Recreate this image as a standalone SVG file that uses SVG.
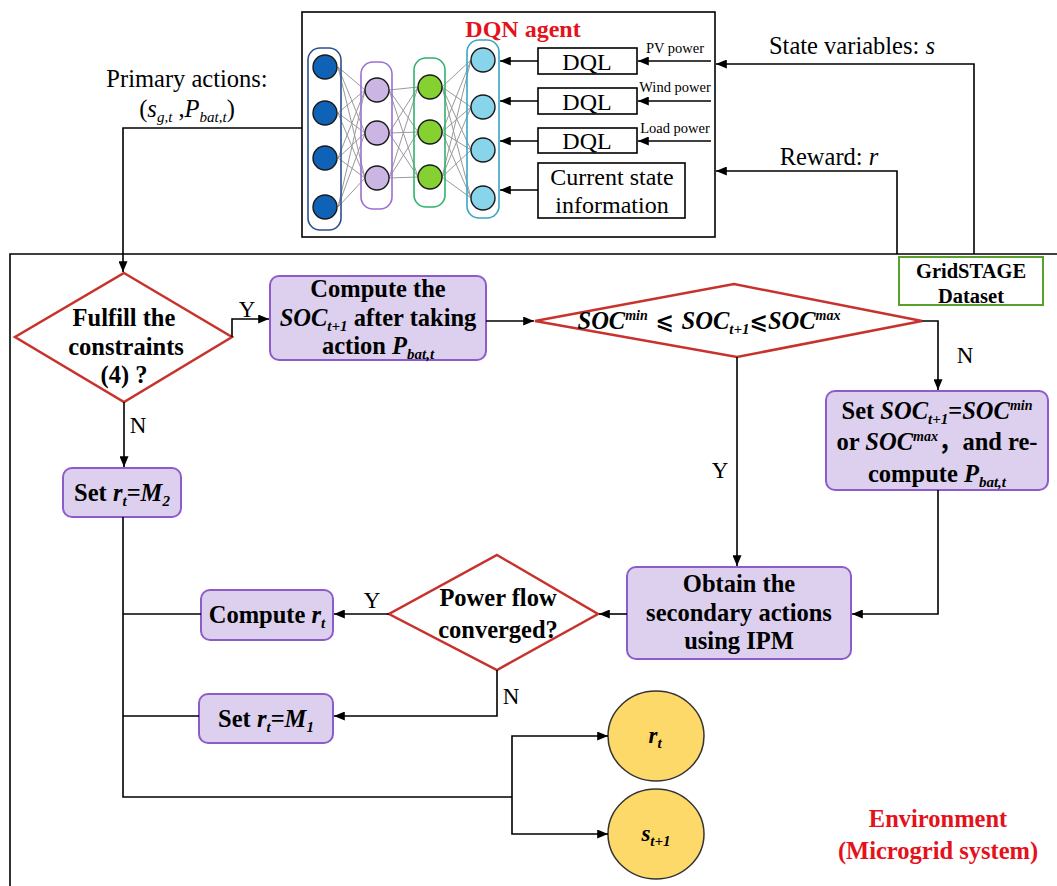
<svg xmlns="http://www.w3.org/2000/svg" width="1057" height="886" viewBox="0 0 1057 886">
  <style>
    .t { font-family: 'Liberation Serif', 'DejaVu Serif', 'Noto Sans CJK SC', serif; fill: #000; }
    .b { font-weight: bold; }
    .i { font-style: italic; }
    .red { fill: #e3121b; }
    .proc { fill: #dcd0ee; stroke: #8e5cc9; stroke-width: 2; }
    .dec { fill: #fff; stroke: #c8322c; stroke-width: 2.5; }
    .box { fill: #fff; stroke: #000; stroke-width: 1.6; }
    .wire { fill: none; stroke: #000; stroke-width: 1.6; }
    .arr { marker-end: url(#ah); }
    .net { fill: none; stroke: #9a9a9a; stroke-width: 1; }
    .node { stroke: #1a1a1a; stroke-width: 1.4; }
    .goal { fill: #fdd96a; stroke: #333; stroke-width: 1.5; }
    .sym { font-style: normal; font-family: 'DejaVu Serif', 'DejaVu Sans', serif; }
  </style>
  <defs>
    <marker id="ah" viewBox="0 0 12 10" refX="12" refY="5" markerWidth="12" markerHeight="9" markerUnits="userSpaceOnUse" orient="auto">
      <path d="M0,0 L12,5 L0,10 z" fill="#000"/>
    </marker>
  </defs>

  <rect width="1057" height="886" fill="#fff"/>

  <!-- environment boundary -->
  <path class="wire" d="M10 886 V254 H1057"/>

  <!-- DQN agent -->
  <g id="dqn-agent">
    <rect x="302" y="12" width="413" height="225" class="box"/>
    <text x="523" y="37" class="t b red" font-size="24" text-anchor="middle">DQN agent</text>
    <!-- inter-layer weights -->
    <path class="net" d="M338 67L365 90M338 67L365 133M338 67L365 178M338 113L365 90M338 113L365 133M338 113L365 178M338 158L365 90M338 158L365 133M338 158L365 178M338 207L365 90M338 207L365 133M338 207L365 178
      M389 90L418 87M389 90L418 132M389 90L418 177M389 133L418 87M389 133L418 132M389 133L418 177M389 178L418 87M389 178L418 132M389 178L418 177
      M442 87L471 60M442 87L471 107M442 87L471 150M442 87L471 198M442 132L471 60M442 132L471 107M442 132L471 150M442 132L471 198M442 177L471 60M442 177L471 107M442 177L471 150M442 177L471 198"/>
    <rect x="308" y="48" width="33" height="182" rx="12" fill="none" stroke="#2d4f8e" stroke-width="1.6"/>
    <rect x="361" y="62" width="31" height="147" rx="12" fill="none" stroke="#9b6fd2" stroke-width="1.6"/>
    <rect x="414" y="58" width="31" height="149" rx="12" fill="none" stroke="#2fb36b" stroke-width="1.6"/>
    <rect x="467" y="40" width="32" height="178" rx="12" fill="none" stroke="#3aa5c0" stroke-width="1.6"/>
    <g class="node" fill="#0f62b5">
      <circle cx="325" cy="67" r="12"/><circle cx="325" cy="113" r="12"/><circle cx="325" cy="158" r="12"/><circle cx="325" cy="207" r="12"/>
    </g>
    <g class="node" fill="#cbb6e3">
      <circle cx="377" cy="90" r="12"/><circle cx="377" cy="133" r="12"/><circle cx="377" cy="178" r="12"/>
    </g>
    <g class="node" fill="#86d132">
      <circle cx="430" cy="87" r="12"/><circle cx="430" cy="132" r="12"/><circle cx="430" cy="177" r="12"/>
    </g>
    <g class="node" fill="#88d4ea">
      <circle cx="483" cy="60" r="12"/><circle cx="483" cy="107" r="12"/><circle cx="483" cy="150" r="12"/><circle cx="483" cy="198" r="12"/>
    </g>
  </g>

  <g id="dql-pv">
    <rect x="538" y="48" width="99" height="26" class="box"/>
    <text x="587" y="70" class="t" font-size="24" text-anchor="middle">DQL</text>
  </g>
  <g id="dql-wind">
    <rect x="538" y="88" width="99" height="26" class="box"/>
    <text x="587" y="110" class="t" font-size="24" text-anchor="middle">DQL</text>
  </g>
  <g id="dql-load">
    <rect x="538" y="128" width="99" height="25" class="box"/>
    <text x="587" y="149" class="t" font-size="24" text-anchor="middle">DQL</text>
  </g>
  <g id="current-state">
    <rect x="538" y="163" width="147" height="55" class="box"/>
    <text x="612" y="185" class="t" font-size="24" text-anchor="middle">Current state</text>
    <text x="612" y="213" class="t" font-size="24" text-anchor="middle">information</text>
  </g>

  <!-- labels outside the flow -->
  <g id="labels">
    <text x="675" y="53" class="t" font-size="14.5" text-anchor="middle">PV power</text>
    <text x="675" y="92" class="t" font-size="14.5" text-anchor="middle">Wind power</text>
    <text x="675" y="133" class="t" font-size="14.5" text-anchor="middle">Load power</text>
    <text x="852" y="54" class="t" font-size="24.5" text-anchor="middle">State variables: <tspan class="i">s</tspan></text>
    <text x="829" y="165" class="t" font-size="24.5" text-anchor="middle">Reward: <tspan class="i">r</tspan></text>
    <text x="187" y="87" class="t" font-size="24.5" text-anchor="middle">Primary actions:</text>
    <text x="187" y="117" class="t" font-size="24.5" text-anchor="middle">(<tspan class="i">s</tspan><tspan class="i" font-size="15" dy="5">g,t</tspan><tspan dy="-5"> ,</tspan><tspan class="i">P</tspan><tspan class="i" font-size="15" dy="5">bat,t</tspan><tspan dy="-5">)</tspan></text>
    <text x="247" y="317" class="t" font-size="23" text-anchor="middle">Y</text>
    <text x="138" y="433" class="t" font-size="23" text-anchor="middle">N</text>
    <text x="965" y="363" class="t" font-size="23" text-anchor="middle">N</text>
    <text x="720" y="478" class="t" font-size="23" text-anchor="middle">Y</text>
    <text x="372" y="608" class="t" font-size="23" text-anchor="middle">Y</text>
    <text x="511" y="704" class="t" font-size="23" text-anchor="middle">N</text>
    <text x="938" y="827" class="t b red" font-size="24.5" text-anchor="middle">Environment</text>
    <text x="938" y="859" class="t b red" font-size="24.5" text-anchor="middle">(Microgrid system)</text>
  </g>

  <g id="gridstage">
    <rect x="899" y="257" width="144" height="48" fill="#fff" stroke="#5aa02c" stroke-width="2"/>
    <text x="971" y="278" class="t b" font-size="20.5" text-anchor="middle">GridSTAGE</text>
    <text x="971" y="303" class="t b" font-size="20.5" text-anchor="middle">Dataset</text>
  </g>

  <g id="check-constraints">
    <polygon points="124,273 232,337 124,402 15,337" class="dec"/>
    <text x="124" y="326" class="t b" font-size="24.5" text-anchor="middle">Fulfill the</text>
    <text x="126" y="355" class="t b" font-size="24.5" text-anchor="middle">constraints</text>
    <text x="124" y="383" class="t b" font-size="24.5" text-anchor="middle">(4) ?</text>
  </g>

  <g id="compute-soc">
    <rect x="270" y="276" width="216" height="84" rx="9" class="proc"/>
    <text x="378" y="297" class="t b" font-size="24.5" text-anchor="middle">Compute the</text>
    <text x="378" y="326" class="t b" font-size="24.5" text-anchor="middle"><tspan class="i">SOC</tspan><tspan class="i" font-size="15" dy="5">t+1</tspan><tspan dy="-5"> after taking</tspan></text>
    <text x="378" y="354" class="t b" font-size="24.5" text-anchor="middle">action <tspan class="i">P</tspan><tspan class="i" font-size="15" dy="5">bat,t</tspan></text>
  </g>

  <g id="check-soc">
    <polygon points="535,321 734,284 922,321 737,357" class="dec"/>
    <text x="709" y="329" class="t b i" font-size="24.5" text-anchor="middle">SOC<tspan font-size="14" dy="-9">min</tspan><tspan dy="9" class="sym" font-size="22"> ⩽ </tspan><tspan>SOC</tspan><tspan font-size="15" dy="5">t+1</tspan><tspan dy="-5" class="sym" font-size="22">⩽</tspan><tspan>SOC</tspan><tspan font-size="14" dy="-9">max</tspan></text>
  </g>

  <g id="reset-soc">
    <rect x="826" y="391" width="222" height="99" rx="9" class="proc"/>
    <text x="937" y="419" class="t b" font-size="24.5" text-anchor="middle">Set <tspan class="i">SOC</tspan><tspan class="i" font-size="15" dy="5">t+1</tspan><tspan dy="-5">=</tspan><tspan class="i">SOC</tspan><tspan class="i" font-size="14" dy="-9">min</tspan></text>
    <text x="937" y="450" class="t b" font-size="24.5" text-anchor="middle">or <tspan class="i">SOC</tspan><tspan class="i" font-size="14" dy="-9">max</tspan><tspan dy="9">，and re-</tspan></text>
    <text x="937" y="482" class="t b" font-size="24.5" text-anchor="middle">compute <tspan class="i">P</tspan><tspan class="i" font-size="15" dy="5">bat,t</tspan></text>
  </g>

  <g id="set-m2">
    <rect x="63" y="468" width="118" height="49" rx="9" class="proc"/>
    <text x="122" y="501" class="t b" font-size="24.5" text-anchor="middle">Set <tspan class="i">r</tspan><tspan class="i" font-size="15" dy="5">t</tspan><tspan dy="-5">=</tspan><tspan class="i">M</tspan><tspan class="i" font-size="15" dy="5">2</tspan></text>
  </g>

  <g id="obtain-secondary">
    <rect x="627" y="567" width="224" height="92" rx="9" class="proc"/>
    <text x="739" y="592" class="t b" font-size="24.5" text-anchor="middle">Obtain the</text>
    <text x="739" y="621" class="t b" font-size="24.5" text-anchor="middle">secondary actions</text>
    <text x="739" y="649" class="t b" font-size="24.5" text-anchor="middle">using IPM</text>
  </g>

  <g id="power-flow">
    <polygon points="497,555 598,614 497,670 389,614" class="dec"/>
    <text x="498" y="606" class="t b" font-size="24.5" text-anchor="middle">Power flow</text>
    <text x="498" y="638" class="t b" font-size="24.5" text-anchor="middle">converged?</text>
  </g>

  <g id="compute-reward">
    <rect x="201" y="590" width="132" height="50" rx="9" class="proc"/>
    <text x="267" y="623" class="t b" font-size="24.5" text-anchor="middle">Compute <tspan class="i">r</tspan><tspan class="i" font-size="15" dy="5">t</tspan></text>
  </g>

  <g id="set-m1">
    <rect x="199" y="694" width="134" height="49" rx="9" class="proc"/>
    <text x="266" y="727" class="t b" font-size="24.5" text-anchor="middle">Set <tspan class="i">r</tspan><tspan class="i" font-size="15" dy="5">t</tspan><tspan dy="-5">=</tspan><tspan class="i">M</tspan><tspan class="i" font-size="15" dy="5">1</tspan></text>
  </g>

  <g id="reward-out">
    <ellipse cx="656" cy="736" rx="48" ry="45" class="goal"/>
    <text x="655" y="743" class="t b i" font-size="23" text-anchor="middle">r<tspan font-size="15" dy="5">t</tspan></text>
  </g>
  <g id="state-out">
    <ellipse cx="656" cy="834" rx="48" ry="45" class="goal"/>
    <text x="656" y="841" class="t b i" font-size="23" text-anchor="middle">s<tspan font-size="15" dy="5">t+1</tspan></text>
  </g>

  <!-- connectors -->
  <g id="connectors" class="wire">
    <path class="arr" d="M302 128 H123 V272"/>
    <path class="arr" d="M974 254 V64 H716"/>
    <path class="arr" d="M897 254 V171 H716"/>
    <path class="arr" d="M711 61 H638"/>
    <path class="arr" d="M711 101 H638"/>
    <path class="arr" d="M711 141 H638"/>
    <path class="arr" d="M538 61 H500"/>
    <path class="arr" d="M538 101 H500"/>
    <path class="arr" d="M538 141 H500"/>
    <path class="arr" d="M538 190 H500"/>
    <path class="arr" d="M232 337 V319 H269"/>
    <path class="arr" d="M486 321 H534"/>
    <path class="arr" d="M922 321 H938 V390"/>
    <path class="arr" d="M737 357 V566"/>
    <path class="arr" d="M938 490 V614 H852"/>
    <path class="arr" d="M627 614 H599"/>
    <path class="arr" d="M389 614 H334"/>
    <path class="arr" d="M497 670 V716 H334"/>
    <path d="M201 614 H123"/>
    <path d="M199 716 H123"/>
    <path class="arr" d="M124 402 V467"/>
    <path d="M123 517 V797 H512"/>
    <path class="arr" d="M512 797 V736 H608"/>
    <path class="arr" d="M512 797 V834 H608"/>
  </g>
</svg>
